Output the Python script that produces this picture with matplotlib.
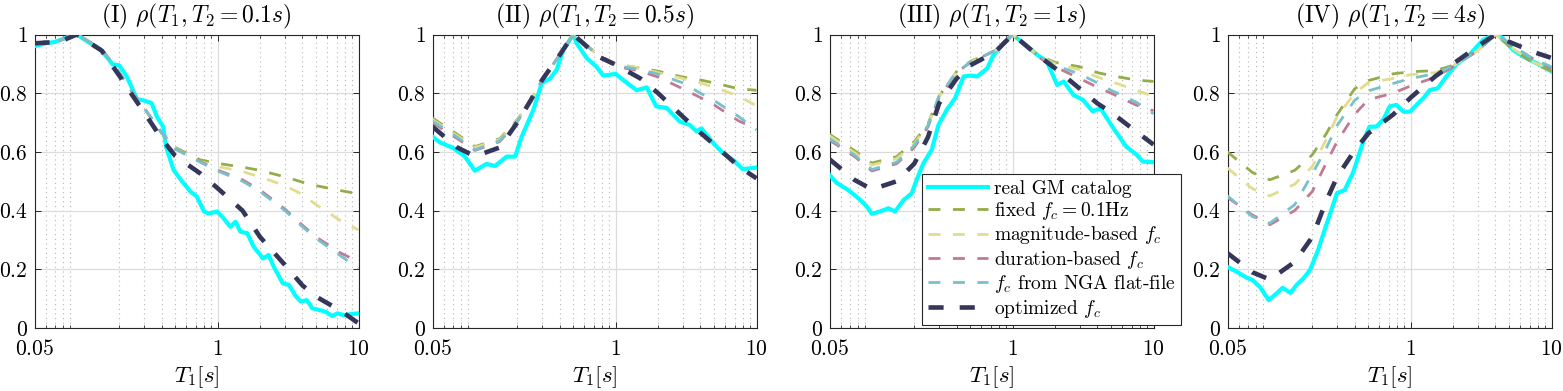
import numpy as np
import matplotlib
matplotlib.use("Agg")
import matplotlib.pyplot as plt
from matplotlib.ticker import FixedLocator, FixedFormatter, LogLocator, NullFormatter

plt.rcParams.update({
    "font.family": "serif",
    "font.serif": ["cmr10"],
    "mathtext.fontset": "cm",
    "axes.formatter.use_mathtext": True,
    "axes.unicode_minus": False,
})

# ---------------- data ----------------
T_model = [0.05, 0.075, 0.1, 0.15, 0.2, 0.25, 0.3, 0.4, 0.5, 0.75, 1, 1.5, 2, 3, 4, 5, 7.5, 10]

titles = [r"(I) $\rho(T_1,T_2=0.1s)$", r"(II) $\rho(T_1,T_2=0.5s)$",
          r"(III) $\rho(T_1,T_2=1s)$", r"(IV) $\rho(T_1,T_2=4s)$"]

# real GM catalog
T_real_1 = [0.05, 0.06, 0.07, 0.08, 0.09, 0.1, 0.12, 0.146, 0.165, 0.18, 0.2, 0.226, 0.267, 0.3, 0.34,
            0.37, 0.41, 0.43, 0.485, 0.56, 0.64, 0.71, 0.8, 0.86, 0.99, 1.1, 1.23, 1.34, 1.45, 1.62,
            1.8, 2.1, 2.3, 2.5, 2.9, 3.2, 3.6, 3.9, 4.3, 4.7, 5.3, 5.8, 6.5, 7.1, 7.8, 10]
rho_real_1 = [0.96, 0.97, 0.975, 0.985, 0.995, 1.0, 0.975, 0.95, 0.92, 0.898, 0.895, 0.857, 0.78, 0.775, 0.766,
              0.72, 0.686, 0.618, 0.539, 0.499, 0.465, 0.448, 0.397, 0.39, 0.397, 0.374, 0.345, 0.362, 0.328, 0.323,
              0.277, 0.237, 0.249, 0.209, 0.152, 0.147, 0.107, 0.09, 0.095, 0.067, 0.061, 0.056, 0.041, 0.05, 0.044, 0.05]

T_real_2 = [0.05, 0.0567, 0.0705, 0.085, 0.1, 0.121, 0.139, 0.168, 0.193, 0.215, 0.26, 0.298, 0.342, 0.381,
            0.425, 0.5, 0.528, 0.622, 0.73, 0.817, 1.0, 1.13, 1.41, 1.66, 1.94, 2.3, 2.86, 3.36, 3.75, 4.07,
            4.92, 5.8, 6.8, 8.0, 10]
rho_real_2 = [0.652, 0.632, 0.613, 0.584, 0.536, 0.559, 0.552, 0.584, 0.584, 0.652, 0.743, 0.834, 0.85, 0.88,
              0.948, 1.0, 0.97, 0.92, 0.89, 0.86, 0.866, 0.845, 0.81, 0.82, 0.755, 0.75, 0.703, 0.692, 0.67, 0.68,
              0.63, 0.595, 0.573, 0.541, 0.547]

T_real_3 = [0.05, 0.056, 0.068, 0.083, 0.092, 0.1, 0.114, 0.131, 0.146, 0.168, 0.192, 0.208, 0.232, 0.266,
            0.297, 0.34, 0.39, 0.448, 0.5, 0.56, 0.66, 0.73, 0.86, 1.0, 1.19, 1.5, 1.75, 2.07, 2.3, 2.7,
            3.16, 3.7, 4.2, 5.2, 6.4, 7.6, 8.4, 10]
rho_real_3 = [0.522, 0.495, 0.47, 0.436, 0.414, 0.389, 0.397, 0.408, 0.397, 0.436, 0.459, 0.505, 0.561, 0.607,
              0.692, 0.743, 0.783, 0.857, 0.86, 0.857, 0.885, 0.93, 0.97, 1.0, 0.97, 0.93, 0.908, 0.828, 0.84, 0.794,
              0.777, 0.738, 0.749, 0.68, 0.618, 0.59, 0.567, 0.565]

T_real_4 = [0.05, 0.058, 0.068, 0.075, 0.085, 0.098, 0.112, 0.123, 0.14, 0.155, 0.173, 0.193, 0.22, 0.247,
            0.268, 0.3, 0.34, 0.39, 0.46, 0.51, 0.57, 0.64, 0.71, 0.79, 0.89, 0.99, 1.1, 1.23, 1.37,
            1.56, 1.79, 2.1, 2.6, 3.27, 4.0, 4.5, 5.3, 6.3, 7.4, 8.7, 10]
rho_real_4 = [0.208, 0.192, 0.172, 0.164, 0.14, 0.095, 0.118, 0.137, 0.12, 0.147, 0.169, 0.198, 0.266, 0.34,
              0.39, 0.46, 0.47, 0.53, 0.635, 0.686, 0.686, 0.711, 0.755, 0.76, 0.737, 0.737, 0.76, 0.783, 0.811,
              0.817, 0.857, 0.897, 0.93, 0.982, 1.0, 0.988, 0.948, 0.925, 0.908, 0.891, 0.874]

# fixed fc = 0.1 Hz
rho_fixed_1 = [0.97, 0.98, 1.0, 0.95, 0.87, 0.80, 0.75, 0.665, 0.615, 0.573, 0.561, 0.548, 0.537, 0.515, 0.497, 0.485, 0.468, 0.457]
rho_fixed_2 = [0.715, 0.66, 0.618, 0.645, 0.71, 0.775, 0.845, 0.93, 1.0, 0.93, 0.90, 0.885, 0.875, 0.855, 0.845, 0.835, 0.815, 0.81]
rho_fixed_3 = [0.66, 0.605, 0.562, 0.584, 0.635, 0.695, 0.79, 0.874, 0.908, 0.945, 1.0, 0.93, 0.905, 0.89, 0.87, 0.86, 0.845, 0.84]
rho_fixed_4 = [0.60, 0.53, 0.505, 0.537, 0.59, 0.66, 0.727, 0.815, 0.843, 0.866, 0.873, 0.877, 0.895, 0.95, 1.0, 0.96, 0.90, 0.875]

# magnitude-based fc
rho_mag_1 = [0.97, 0.98, 1.0, 0.95, 0.87, 0.80, 0.75, 0.665, 0.612, 0.567, 0.55, 0.533, 0.515, 0.485, 0.455, 0.42, 0.365, 0.334]
rho_mag_2 = [0.71, 0.655, 0.615, 0.642, 0.708, 0.775, 0.845, 0.93, 1.0, 0.93, 0.90, 0.885, 0.87, 0.85, 0.835, 0.82, 0.79, 0.757]
rho_mag_3 = [0.655, 0.598, 0.555, 0.577, 0.628, 0.69, 0.79, 0.872, 0.905, 0.945, 1.0, 0.93, 0.90, 0.88, 0.855, 0.84, 0.81, 0.79]
rho_mag_4 = [0.545, 0.475, 0.45, 0.49, 0.55, 0.64, 0.72, 0.80, 0.836, 0.85, 0.863, 0.87, 0.893, 0.945, 1.0, 0.96, 0.905, 0.88]

# duration-based fc
rho_dur_1 = [0.97, 0.98, 1.0, 0.95, 0.87, 0.80, 0.75, 0.665, 0.61, 0.567, 0.538, 0.505, 0.47, 0.405, 0.35, 0.31, 0.255, 0.226]
rho_dur_2 = [0.70, 0.645, 0.605, 0.635, 0.703, 0.775, 0.845, 0.93, 1.0, 0.93, 0.892, 0.875, 0.855, 0.815, 0.785, 0.76, 0.705, 0.68]
rho_dur_3 = [0.64, 0.585, 0.535, 0.56, 0.615, 0.685, 0.785, 0.87, 0.905, 0.945, 1.0, 0.925, 0.89, 0.85, 0.82, 0.80, 0.76, 0.74]
rho_dur_4 = [0.445, 0.385, 0.352, 0.40, 0.465, 0.56, 0.635, 0.728, 0.778, 0.80, 0.825, 0.855, 0.89, 0.945, 1.0, 0.97, 0.915, 0.885]

# fc from NGA flat-file
rho_nga_1 = [0.97, 0.98, 1.0, 0.95, 0.87, 0.80, 0.75, 0.665, 0.61, 0.565, 0.535, 0.50, 0.465, 0.40, 0.345, 0.305, 0.245, 0.203]
rho_nga_2 = [0.705, 0.65, 0.607, 0.638, 0.705, 0.775, 0.845, 0.93, 1.0, 0.93, 0.895, 0.88, 0.865, 0.835, 0.80, 0.775, 0.72, 0.675]
rho_nga_3 = [0.645, 0.59, 0.54, 0.565, 0.622, 0.69, 0.79, 0.872, 0.905, 0.945, 1.0, 0.93, 0.895, 0.865, 0.835, 0.81, 0.77, 0.73]
rho_nga_4 = [0.45, 0.38, 0.357, 0.42, 0.525, 0.61, 0.69, 0.776, 0.808, 0.833, 0.85, 0.867, 0.893, 0.945, 1.0, 0.97, 0.915, 0.89]

# optimized fc
rho_opt_1 = [0.97, 0.975, 1.0, 0.945, 0.86, 0.79, 0.735, 0.645, 0.586, 0.527, 0.476, 0.40, 0.31, 0.215, 0.145, 0.107, 0.058, 0.016]
rho_opt_2 = [0.686, 0.615, 0.585, 0.615, 0.70, 0.777, 0.845, 0.93, 1.0, 0.925, 0.897, 0.85, 0.80, 0.72, 0.665, 0.625, 0.55, 0.51]
rho_opt_3 = [0.575, 0.505, 0.472, 0.50, 0.56, 0.65, 0.765, 0.85, 0.895, 0.94, 1.0, 0.93, 0.885, 0.815, 0.765, 0.735, 0.67, 0.625]
rho_opt_4 = [0.255, 0.19, 0.165, 0.225, 0.31, 0.43, 0.515, 0.605, 0.663, 0.727, 0.785, 0.858, 0.90, 0.96, 1.0, 0.975, 0.94, 0.92]

labels = ["real GM catalog", r"fixed $f_c=0.1$Hz", r"magnitude-based $f_c$",
          r"duration-based $f_c$", r"$f_c$ from NGA flat-file", r"optimized $f_c$"]

x_ticks = [0.05, 1, 10]
x_ticklabels = [r"$0.05$", r"$1$", r"$10$"]
y_ticks = [0, 0.2, 0.4, 0.6, 0.8, 1]
y_ticklabels = [r"$0$", r"$0.2$", r"$0.4$", r"$0.6$", r"$0.8$", r"$1$"]

real_T = [T_real_1, T_real_2, T_real_3, T_real_4]
real_rho = [rho_real_1, rho_real_2, rho_real_3, rho_real_4]
model_rho = [
    [rho_fixed_1, rho_mag_1, rho_dur_1, rho_nga_1, rho_opt_1],
    [rho_fixed_2, rho_mag_2, rho_dur_2, rho_nga_2, rho_opt_2],
    [rho_fixed_3, rho_mag_3, rho_dur_3, rho_nga_3, rho_opt_3],
    [rho_fixed_4, rho_mag_4, rho_dur_4, rho_nga_4, rho_opt_4],
]

# ---------------- style ----------------
c_real = "#00ffff"
model_colors = ["#93ad4a", "#e2dc8f", "#c07a92", "#77c1cd", "#34365a"]
model_lw = [2.0, 2.0, 2.0, 2.0, 3.3]
model_ls = [(0, (4.3, 4.5)), (0, (4.3, 4.5)), (0, (4.3, 4.5)), (0, (4.3, 4.5)), (0, (3.3, 3.5))]

fig = plt.figure(figsize=(15.63, 3.91), dpi=100)
lefts = [34.5, 432.5, 829.5, 1227.5]
W, H = 1563.0, 391.0
axw, axh = 324.0, 293.5
bottom = (H - 328.0) / H

handles = []
for i in range(4):
    ax = fig.add_axes([lefts[i] / W, bottom, axw / W, axh / H])
    ax.set_xscale("log")
    h, = ax.plot(real_T[i], real_rho[i], color=c_real, lw=3.0, solid_joinstyle="round", zorder=3)
    hs = [h]
    for k in range(5):
        hk, = ax.plot(T_model, model_rho[i][k], color=model_colors[k], lw=model_lw[k],
                      linestyle=model_ls[k], zorder=4 + k)
        hs.append(hk)
    if i == 0:
        handles = hs
    ax.set_xlim(0.05, 10)
    ax.set_ylim(0, 1)
    ax.xaxis.set_major_locator(FixedLocator(x_ticks))
    ax.xaxis.set_major_formatter(FixedFormatter(x_ticklabels))
    ax.xaxis.set_minor_locator(LogLocator(base=10, subs=np.arange(2, 10), numticks=20))
    ax.xaxis.set_minor_formatter(NullFormatter())
    ax.yaxis.set_major_locator(FixedLocator(y_ticks))
    ax.yaxis.set_major_formatter(FixedFormatter(y_ticklabels))
    ax.grid(True, which="major", color="#dcdcdc", lw=0.9)
    ax.grid(True, which="minor", axis="x", color="#b4b4b4", lw=0.8, linestyle=(0, (1, 3.2)))
    ax.set_axisbelow(True)
    ax.tick_params(which="both", direction="in", top=True, right=True, labelsize=15.5,
                   color="#262626")
    ax.tick_params(axis="x", which="both", pad=8)
    ax.tick_params(axis="y", which="both", pad=5)
    ax.tick_params(which="major", length=4, width=0.7)
    ax.tick_params(which="minor", length=2.2, width=0.6)
    for sp in ax.spines.values():
        sp.set_color("#262626")
        sp.set_linewidth(0.8)
    ax.set_title(titles[i], fontsize=17, pad=9)
    ax.set_xlabel(r"$T_1[s]$", fontsize=16.5, labelpad=4)

leg = fig.legend(handles, labels, loc="upper left", bbox_to_anchor=(922 / W, 1 - 174 / H),
                 fontsize=14, frameon=True, fancybox=False, edgecolor="#262626",
                 framealpha=1, handlelength=3.1, handletextpad=0.3, labelspacing=0.12,
                 borderpad=0.3, borderaxespad=0)
leg.get_frame().set_linewidth(0.8)
leg.set_zorder(20)

fig.savefig("out.png", dpi=100)
